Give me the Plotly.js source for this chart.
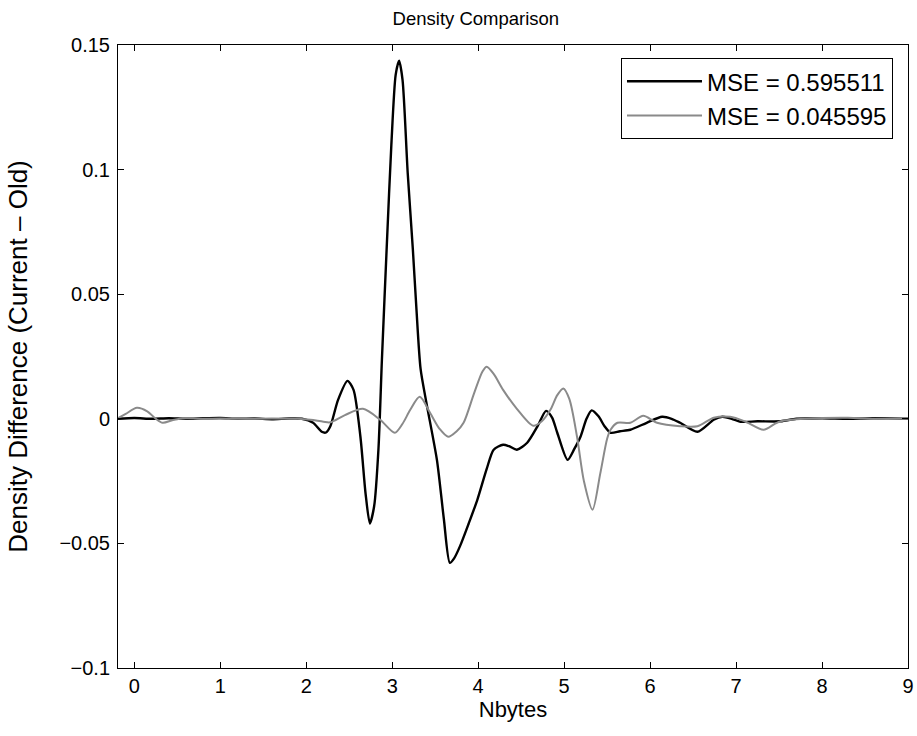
<!DOCTYPE html>
<html>
<head>
<meta charset="utf-8">
<script src="https://cdn.plot.ly/plotly-3.0.1.min.js"></script>
<style>html,body{margin:0;padding:0;background:#fff;}#chart{width:917px;height:736px;}</style>
</head>
<body>
<div id="chart"></div>
<script>
const seriesNames = ["MSE = 0.595511", "MSE = 0.045595"];

const xBlack = [-0.19, 0.0, 0.2, 0.4, 0.6, 0.8, 1.0, 1.2, 1.4, 1.6, 1.8, 1.95, 2.08, 2.18, 2.23, 2.28, 2.37, 2.48, 2.55, 2.63, 2.69, 2.74, 2.79, 2.84, 2.88, 2.94, 2.99, 3.04, 3.08, 3.12, 3.18, 3.24, 3.28, 3.33, 3.40, 3.52, 3.60, 3.67, 3.72, 3.79, 3.89, 3.99, 4.10, 4.18, 4.29, 4.36, 4.45, 4.57, 4.69, 4.79, 4.86, 4.92, 5.04, 5.12, 5.19, 5.26, 5.32, 5.40, 5.47, 5.54, 5.65, 5.77, 5.96, 6.14, 6.25, 6.35, 6.55, 6.74, 6.84, 6.95, 7.05, 7.25, 7.52, 7.7, 8.0, 8.3, 8.6, 9.0];
const yBlack = [0, 0.0003, 0, 0.0002, 0, 0.0002, 0.0003, 0, 0.0001, -0.0002, 0.0001, 0, -0.0016, -0.0052, -0.0055, -0.003, 0.0076, 0.0152, 0.0116, -0.0072, -0.030, -0.042, -0.035, -0.012, 0.0237, 0.072, 0.110, 0.138, 0.1437, 0.136, 0.0987, 0.068, 0.045, 0.020, 0.0060, -0.0165, -0.040, -0.0578, -0.056, -0.051, -0.042, -0.0325, -0.020, -0.0124, -0.0104, -0.011, -0.0124, -0.0096, -0.003, 0.0032, 0.0005, -0.0056, -0.0165, -0.012, -0.0072, 0, 0.0034, 0.001, -0.003, -0.0056, -0.005, -0.0044, -0.0016, 0.0008, 0, -0.0016, -0.0052, -0.0004, 0.0008, 0, -0.0012, -0.001, -0.001, 0, 0.0002, 0, 0.0002, 0];

const xGray = [-0.19, -0.1, 0.03, 0.15, 0.25, 0.33, 0.45, 0.6, 0.8, 1.0, 1.3, 1.6, 1.9, 2.05, 2.2, 2.28, 2.45, 2.66, 2.86, 3.03, 3.12, 3.21, 3.32, 3.44, 3.55, 3.65, 3.75, 3.83, 3.95, 4.05, 4.10, 4.18, 4.29, 4.45, 4.64, 4.74, 4.84, 4.92, 4.99, 5.06, 5.15, 5.23, 5.33, 5.42, 5.50, 5.54, 5.62, 5.77, 5.92, 6.08, 6.35, 6.55, 6.74, 6.93, 7.1, 7.32, 7.45, 7.52, 7.8, 8.3, 8.6, 9.0];
const yGray = [0.0003, 0.002, 0.0044, 0.003, 0, -0.0016, -0.0005, 0.0002, 0, 0.0001, 0, 0.0001, 0, -0.0004, -0.0012, -0.0014, 0.0015, 0.004, -0.0004, -0.0056, -0.002, 0.0036, 0.0088, 0.0024, -0.004, -0.0072, -0.005, -0.0016, 0.010, 0.019, 0.0209, 0.018, 0.0116, 0.004, -0.0028, -0.001, 0.0036, 0.0095, 0.0122, 0.008, -0.0072, -0.025, -0.0365, -0.022, -0.008, -0.0044, -0.0016, -0.0016, 0.0012, -0.0016, -0.003, -0.003, 0.0004, 0.0008, -0.001, -0.0044, -0.002, -0.001, 0, 0.0004, 0, 0];

const xTicks = [0, 1, 2, 3, 4, 5, 6, 7, 8, 9];
const yTicks = [-0.1, -0.05, 0, 0.05, 0.1, 0.15];
const yTickText = ["\u22120.1", "\u22120.05", "0", "0.05", "0.1", "0.15"];

const FONT = "Liberation Sans, Arial, Helvetica, sans-serif";

const traces = [
  {x: xBlack, y: yBlack, name: seriesNames[0], mode: "lines",
   line: {color: "#000000", width: 2.4, shape: "spline", smoothing: 0.7}},
  {x: xGray, y: yGray, name: seriesNames[1], mode: "lines",
   line: {color: "#8a8a8a", width: 2, shape: "spline", smoothing: 0.8}}
];

const axisCommon = {
  showgrid: false, zeroline: false, showline: true, linecolor: "#000", linewidth: 1,
  mirror: "ticks", ticks: "inside", ticklen: 6, tickcolor: "#000", tickwidth: 1,
  tickfont: {family: FONT, size: 20, color: "#000"}
};

const layout = {
  width: 917, height: 736,
  margin: {l: 118, r: 9, t: 45, b: 68},
  paper_bgcolor: "#fff", plot_bgcolor: "#fff",
  font: {family: FONT, color: "#000"},
  title: {text: "Density Comparison", font: {family: FONT, size: 18.5, color: "#000"},
          x: 0.453, xref: "paper", xanchor: "center", y: 0.975, yanchor: "middle"},
  xaxis: Object.assign({}, axisCommon, {
    range: [-0.19, 9], tickvals: xTicks, ticktext: xTicks.map(String),
    title: {text: "Nbytes", font: {family: FONT, size: 22, color: "#000"}, standoff: 0}
  }),
  yaxis: Object.assign({}, axisCommon, {
    range: [-0.1, 0.15], tickvals: yTicks, ticktext: yTickText, ticklabelstandoff: 3,
    title: {text: "Density Difference (Current \u2013 Old)", font: {family: FONT, size: 26, color: "#000"}, standoff: 24}
  }),
  legend: {x: 0.981, xanchor: "right", y: 0.979, yanchor: "top",
           bgcolor: "#fff", bordercolor: "#000", borderwidth: 1, tracegroupgap: 0,
           itemwidth: 75,
           font: {family: FONT, size: 24, color: "#000"}},
  showlegend: true
};

Plotly.newPlot("chart", traces, layout, {displayModeBar: false, staticPlot: true});
</script>
</body>
</html>
